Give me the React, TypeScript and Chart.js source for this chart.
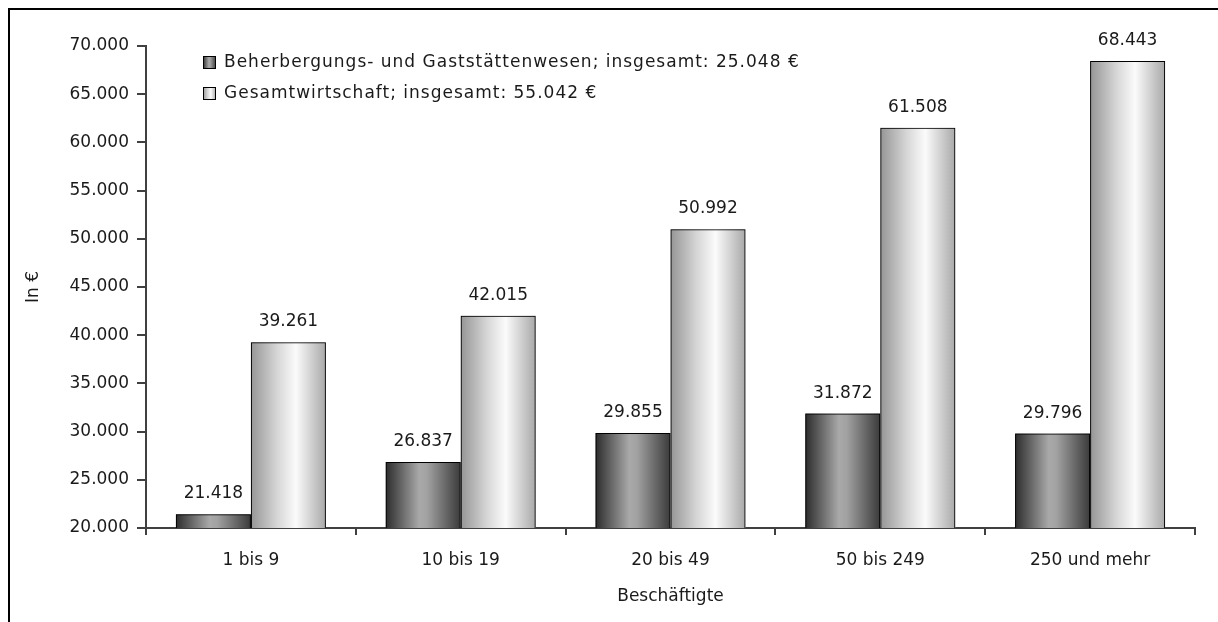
import React, { useEffect, useRef } from 'react';
import { Chart, registerables } from 'chart.js';
Chart.register(...registerables);

const categories = ['1 bis 9', '10 bis 19', '20 bis 49', '50 bis 249', '250 und mehr'];
const seriesHotel = [21418, 26837, 29855, 31872, 29796];
const seriesTotal = [39261, 42015, 50992, 61508, 68443];
const seriesLabels = [
  'Beherbergungs- und Gaststättenwesen; insgesamt: 25.048 €',
  'Gesamtwirtschaft; insgesamt: 55.042 €',
];
const yMin = 20000;
const yMax = 70000;
const yStep = 5000;
const yTitle = 'In €';
const xTitle = 'Beschäftigte';

const FONT = { family: '"DejaVu Sans", sans-serif', size: 17 };
const TEXT = '#1a1a1a';
const AXIS = '#404040';

const darkStops: [number, string][] = [
  [0, '#2c2c2c'], [0.45, '#a9a9a9'], [0.55, '#a2a2a2'], [1, '#3a3a3a'],
];
const lightStops: [number, string][] = [
  [0, '#959595'], [0.35, '#d6d6d6'], [0.6, '#fbfbfb'], [1, '#a8a8a8'],
];
const stopsList = [darkStops, lightStops];

const fmt = (n: number) => String(Math.round(n)).replace(/\B(?=(\d{3})+(?!\d))/g, '.');

function grad(ctx: CanvasRenderingContext2D, x0: number, x1: number, stops: [number, string][]) {
  const g = ctx.createLinearGradient(x0, 0, x1, 0);
  stops.forEach(([o, c]) => g.addColorStop(o, c));
  return g;
}

const barFillPlugin = {
  id: 'barFill',
  beforeDatasetsDraw(chart: any) {
    const ctx = chart.ctx as CanvasRenderingContext2D;
    const area = chart.chartArea;
    ctx.save();
    ctx.beginPath();
    ctx.rect(area.left, area.top, area.right - area.left, area.bottom - area.top);
    ctx.clip();
    chart.data.datasets.forEach((_: any, di: number) => {
      const meta = chart.getDatasetMeta(di);
      meta.data.forEach((el: any) => {
        const { x, y, base, width } = el.getProps(['x', 'y', 'base', 'width'], true);
        const b = Math.min(base, area.bottom);
        ctx.fillStyle = grad(ctx, x - width / 2, x + width / 2, stopsList[di]);
        ctx.fillRect(x - width / 2, y, width, b - y);
      });
    });
    ctx.restore();
  },
  afterDatasetsDraw(chart: any) {
    const ctx = chart.ctx as CanvasRenderingContext2D;
    ctx.save();
    ctx.font = `${FONT.size}px ${FONT.family}`;
    ctx.fillStyle = TEXT;
    ctx.textAlign = 'center';
    ctx.textBaseline = 'alphabetic';
    chart.data.datasets.forEach((ds: any, di: number) => {
      const meta = chart.getDatasetMeta(di);
      meta.data.forEach((el: any, i: number) => {
        const { x, y } = el.getProps(['x', 'y'], true);
        ctx.fillText(fmt(ds.data[i]), x, y - 16);
      });
    });
    ctx.restore();
  },
  afterDraw(chart: any) {
    const ctx = chart.ctx as CanvasRenderingContext2D;
    const area = chart.chartArea;
    ctx.save();
    ctx.font = `${FONT.size}px ${FONT.family}`;
    (ctx as any).letterSpacing = '1px';
    ctx.textBaseline = 'middle';
    ctx.textAlign = 'left';
    chart.data.datasets.forEach((ds: any, di: number) => {
      const cy = area.top + 16 + di * 31;
      const sx = area.left + 57;
      ctx.fillStyle = grad(ctx, sx, sx + 13, stopsList[di]);
      ctx.fillRect(sx, cy - 6, 13, 13);
      ctx.strokeStyle = '#000';
      ctx.lineWidth = 1;
      ctx.strokeRect(sx + 0.5, cy - 5.5, 12, 12);
      ctx.fillStyle = TEXT;
      ctx.fillText(ds.label, sx + 21, cy + 1);
    });
    ctx.restore();
  },
};

export default function App() {
  const ref = useRef<HTMLCanvasElement>(null);
  useEffect(() => {
    document.body.style.overflow = 'hidden';
    const canvas = ref.current!;
    const chart = new Chart(canvas, {
      type: 'bar',
      data: {
        labels: categories,
        datasets: [
          { label: seriesLabels[0], data: seriesHotel, backgroundColor: 'rgba(0,0,0,0)', borderColor: '#000', borderWidth: 1, categoryPercentage: 0.715, barPercentage: 1 },
          { label: seriesLabels[1], data: seriesTotal, backgroundColor: 'rgba(0,0,0,0)', borderColor: '#000', borderWidth: 1, categoryPercentage: 0.715, barPercentage: 1 },
        ],
      },
      options: {
        responsive: false,
        animation: false,
        layout: { padding: { top: 46, right: 23, left: 0, bottom: 0 } },
        plugins: { legend: { display: false }, tooltip: { enabled: false } },
        scales: {
          x: {
            offset: true,
            grid: { display: true, drawOnChartArea: false, drawTicks: true, tickLength: 7, offset: true, color: AXIS, lineWidth: 2 },
            border: { display: true, color: AXIS, width: 2 },
            ticks: { color: TEXT, font: FONT, padding: 15, maxRotation: 0 },
            title: { display: true, text: xTitle, color: TEXT, font: FONT, padding: { top: 0, bottom: 15 } },
            afterFit: (s: any) => { s.height = 94; },
          },
          y: {
            min: yMin,
            max: yMax,
            ticks: { stepSize: yStep, callback: (v: any) => fmt(Number(v)), color: TEXT, font: FONT, padding: 8 },
            grid: { display: true, drawOnChartArea: false, drawTicks: true, tickLength: 9, color: AXIS, lineWidth: 2 },
            border: { display: true, color: AXIS, width: 2 },
            title: { display: true, text: yTitle, color: TEXT, font: FONT, padding: { top: 23, bottom: 0 } },
            afterFit: (s: any) => { s.width = 146; },
          },
        },
      },
      plugins: [barFillPlugin],
    });
    return () => chart.destroy();
  }, []);
  return (
    <>
      <div style={{ position: 'fixed', left: 8, top: 8, width: 1300, height: 700, border: '2px solid #000', boxSizing: 'border-box' }} />
      <canvas ref={ref} width={1218} height={622} style={{ position: 'fixed', left: 0, top: 0, width: 1218, height: 622 }} />
    </>
  );
}
